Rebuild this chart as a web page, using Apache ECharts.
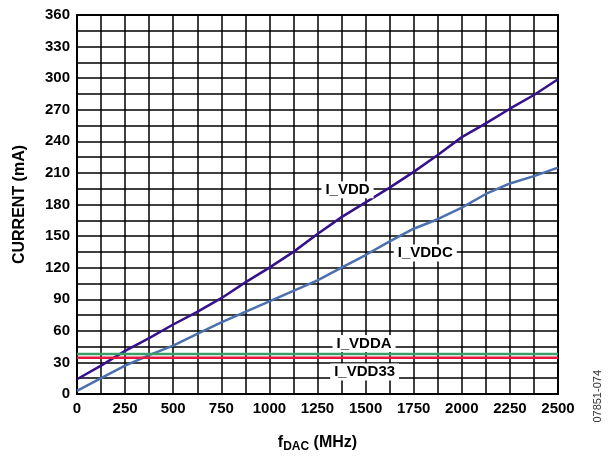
<!DOCTYPE html>
<html>
<head>
<meta charset="utf-8">
<script src="https://cdn.jsdelivr.net/npm/echarts@6/dist/echarts.min.js"></script>
<style>
  html, body { margin: 0; padding: 0; background: #fff; }
  #chart { width: 609px; height: 458px; }
</style>
</head>
<body>
<div id="chart"></div>
<script>
  // fDAC (MHz), one point per minor grid column
  const freqs = [0, 125, 250, 375, 500, 625, 750, 875, 1000, 1125, 1250,
    1375, 1500, 1625, 1750, 1875, 2000, 2125, 2250, 2375, 2500];
  // currents in mA
  const iVdd = [14, 27, 41, 53, 66, 78, 91, 106, 120, 135, 152,
    168, 182, 196, 211, 227, 244, 257, 271, 284, 299];
  const iVddc = [3, 15, 27, 37, 46, 57, 68, 78, 88, 98, 108,
    120, 132, 145, 157, 166, 177, 190, 200, 207, 215];
  const iVdda = [38, 38, 38, 38, 38, 38, 38, 38, 38, 38, 38,
    38, 38, 38, 38, 38, 38, 38, 38, 38, 38];
  const iVdd33 = [34.5, 34.5, 34.5, 34.5, 34.5, 34.5, 34.5, 34.5, 34.5, 34.5, 34.5,
    34.5, 34.5, 34.5, 34.5, 34.5, 34.5, 34.5, 34.5, 34.5, 34.5];

  const pair = (ys) => freqs.map((x, i) => [x, ys[i]]);
  const font = 'Liberation Sans, Arial, sans-serif';

  // callout label with white box over the grid
  function tag(text, x, y) {
    return {
      markPoint: {
        symbol: 'rect', symbolSize: 1, silent: true,
        itemStyle: { color: 'transparent' },
        label: {
          show: true, position: 'inside', formatter: text,
          color: '#000', fontFamily: font, fontWeight: 'bold', fontSize: 15,
          backgroundColor: '#fff', padding: [1, 4]
        },
        data: [{ coord: [x, y] }]
      }
    };
  }

  const chart = echarts.init(document.getElementById('chart'));
  chart.setOption({
    backgroundColor: '#fff',
    animation: false,
    grid: {
      left: 77, right: 51, top: 15, bottom: 59,
      show: true, borderColor: '#000', borderWidth: 2
    },
    xAxis: {
      type: 'value', min: 0, max: 2500, interval: 250,
      name: '{f|f}{sub|DAC}{f| (MHz)}',
      nameLocation: 'middle', nameGap: 38,
      nameTextStyle: {
        rich: {
          f: { fontFamily: font, fontWeight: 'bold', fontSize: 16, color: '#000' },
          sub: { fontFamily: font, fontWeight: 'bold', fontSize: 12, color: '#000', verticalAlign: 'bottom', padding: [9, 0, 0, 0] }
        }
      },
      axisLine: { show: true, lineStyle: { color: '#000', width: 2 } },
      axisTick: { show: false },
      axisLabel: {
        color: '#000', fontFamily: font, fontWeight: 'bold', fontSize: 15, margin: 7,
        formatter: (v) => String(v)
      },
      splitLine: { show: true, lineStyle: { color: '#000', width: 1.5 } },
      minorTick: { show: false, splitNumber: 2 },
      minorSplitLine: { show: true, lineStyle: { color: '#000', width: 1.5 } }
    },
    yAxis: {
      type: 'value', min: 0, max: 360, interval: 30,
      name: 'CURRENT (mA)',
      nameLocation: 'middle', nameGap: 49,
      nameTextStyle: { color: '#000', fontFamily: font, fontWeight: 'bold', fontSize: 16 },
      axisLine: { show: true, lineStyle: { color: '#000', width: 2 } },
      axisTick: { show: false },
      axisLabel: { color: '#000', fontFamily: font, fontWeight: 'bold', fontSize: 15, margin: 7 },
      splitLine: { show: true, lineStyle: { color: '#000', width: 1.5 } },
      minorTick: { show: false, splitNumber: 2 },
      minorSplitLine: { show: true, lineStyle: { color: '#000', width: 1.5 } }
    },
    series: [
      Object.assign({
        name: 'I_VDD', type: 'line', data: pair(iVdd), showSymbol: false,
        lineStyle: { color: '#36118c', width: 2.5 }
      }, tag('I_VDD', 1406, 194)),
      Object.assign({
        name: 'I_VDDC', type: 'line', data: pair(iVddc), showSymbol: false,
        lineStyle: { color: '#4a70ad', width: 2.5 }
      }, tag('I_VDDC', 1810, 134)),
      Object.assign({
        name: 'I_VDDA', type: 'line', data: pair(iVdda), showSymbol: false,
        lineStyle: { color: '#3a9e68', width: 2.5 }
      }, tag('I_VDDA', 1492, 48)),
      Object.assign({
        name: 'I_VDD33', type: 'line', data: pair(iVdd33), showSymbol: false,
        lineStyle: { color: '#e3173f', width: 2.5 }
      }, tag('I_VDD33', 1495, 21))
    ],
    graphic: [{
      type: 'text', left: 592, top: 370, rotation: Math.PI / 2,
      style: { text: '07851-074', fill: '#333', font: '11px ' + font }
    }]
  });
</script>
</body>
</html>
